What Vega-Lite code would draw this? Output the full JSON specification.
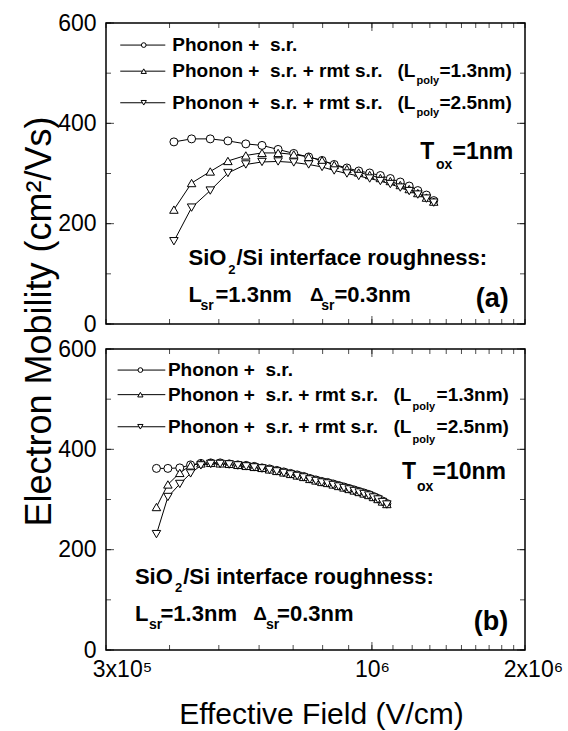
{
"$schema": "https://vega.github.io/schema/vega-lite/v6.json",
"background": "white",
"padding": {"left": 20, "top": 11, "right": 0, "bottom": 0},
"config": {
  "view": {"stroke": "black", "strokeWidth": 1.5},
  "font": "Liberation Sans",
  "text": {"font": "Liberation Sans", "fontWeight": "bold", "align": "left", "baseline": "middle", "color": "black"},
  "axis": {"labelFont": "Liberation Sans", "titleFont": "Liberation Sans", "labelColor": "black", "titleColor": "black", "grid": false, "domain": false, "ticks": false}
},
"datasets": {
"xticks": [{"tick":300000},{"tick":400000},{"tick":500000},{"tick":600000},{"tick":700000},{"tick":800000},{"tick":900000},{"tick":1000000},{"tick":1100000},{"tick":1200000},{"tick":1300000},{"tick":1400000},{"tick":1500000},{"tick":1600000},{"tick":1700000},{"tick":1800000},{"tick":1900000},{"tick":2000000}],
"yticks": [{"tick":0},{"tick":100},{"tick":200},{"tick":300},{"tick":400},{"tick":500},{"tick":600}],
"a": [
{"series":"sr","field":408000,"mobility":363},{"series":"sr","field":442000,"mobility":369},{"series":"sr","field":481000,"mobility":369},{"series":"sr","field":521000,"mobility":365},{"series":"sr","field":565000,"mobility":359},{"series":"sr","field":608000,"mobility":356},{"series":"sr","field":654000,"mobility":348},{"series":"sr","field":702000,"mobility":340},{"series":"sr","field":751000,"mobility":333},{"series":"sr","field":798000,"mobility":326},{"series":"sr","field":843000,"mobility":318},{"series":"sr","field":893000,"mobility":311},{"series":"sr","field":942000,"mobility":305},{"series":"sr","field":990000,"mobility":301},{"series":"sr","field":1039000,"mobility":296},{"series":"sr","field":1087000,"mobility":290},{"series":"sr","field":1137000,"mobility":283},{"series":"sr","field":1184000,"mobility":275},{"series":"sr","field":1231000,"mobility":266},{"series":"sr","field":1280000,"mobility":257},{"series":"sr","field":1323000,"mobility":246},
{"series":"r13","field":408000,"mobility":228},{"series":"r13","field":442000,"mobility":281},{"series":"r13","field":481000,"mobility":304},{"series":"r13","field":521000,"mobility":325},{"series":"r13","field":565000,"mobility":336},{"series":"r13","field":608000,"mobility":341},{"series":"r13","field":654000,"mobility":341},{"series":"r13","field":702000,"mobility":338},{"series":"r13","field":751000,"mobility":333},{"series":"r13","field":798000,"mobility":326},{"series":"r13","field":843000,"mobility":317},{"series":"r13","field":893000,"mobility":309},{"series":"r13","field":942000,"mobility":302},{"series":"r13","field":990000,"mobility":297},{"series":"r13","field":1039000,"mobility":291},{"series":"r13","field":1087000,"mobility":285},{"series":"r13","field":1137000,"mobility":277},{"series":"r13","field":1184000,"mobility":269},{"series":"r13","field":1231000,"mobility":261},{"series":"r13","field":1280000,"mobility":252},{"series":"r13","field":1323000,"mobility":244},
{"series":"r25","field":408000,"mobility":165},{"series":"r25","field":442000,"mobility":232},{"series":"r25","field":481000,"mobility":266},{"series":"r25","field":521000,"mobility":301},{"series":"r25","field":565000,"mobility":318},{"series":"r25","field":608000,"mobility":323},{"series":"r25","field":654000,"mobility":324},{"series":"r25","field":702000,"mobility":322},{"series":"r25","field":751000,"mobility":318},{"series":"r25","field":798000,"mobility":313},{"series":"r25","field":843000,"mobility":306},{"series":"r25","field":893000,"mobility":300},{"series":"r25","field":942000,"mobility":295},{"series":"r25","field":990000,"mobility":290},{"series":"r25","field":1039000,"mobility":285},{"series":"r25","field":1087000,"mobility":279},{"series":"r25","field":1137000,"mobility":272},{"series":"r25","field":1184000,"mobility":265},{"series":"r25","field":1231000,"mobility":258},{"series":"r25","field":1280000,"mobility":250},{"series":"r25","field":1323000,"mobility":242}
],
"b": [
{"series":"sr","field":377000,"mobility":362},{"series":"sr","field":397000,"mobility":362},{"series":"sr","field":419000,"mobility":363},{"series":"sr","field":440000,"mobility":369},{"series":"sr","field":461000,"mobility":372},{"series":"sr","field":482000,"mobility":373},{"series":"sr","field":503000,"mobility":373},{"series":"sr","field":524000,"mobility":371},{"series":"sr","field":545000,"mobility":369},{"series":"sr","field":566000,"mobility":368},{"series":"sr","field":587000,"mobility":366},{"series":"sr","field":608000,"mobility":363},{"series":"sr","field":629000,"mobility":361},{"series":"sr","field":650000,"mobility":358},{"series":"sr","field":671000,"mobility":355},{"series":"sr","field":692000,"mobility":352},{"series":"sr","field":713000,"mobility":349},{"series":"sr","field":734000,"mobility":346},{"series":"sr","field":755000,"mobility":342},{"series":"sr","field":776000,"mobility":339},{"series":"sr","field":797000,"mobility":336},{"series":"sr","field":818000,"mobility":334},{"series":"sr","field":839000,"mobility":331},{"series":"sr","field":860000,"mobility":328},{"series":"sr","field":881000,"mobility":325},{"series":"sr","field":902000,"mobility":322},{"series":"sr","field":923000,"mobility":319},{"series":"sr","field":944000,"mobility":316},{"series":"sr","field":965000,"mobility":313},{"series":"sr","field":986000,"mobility":310},{"series":"sr","field":1007000,"mobility":306},{"series":"sr","field":1028000,"mobility":302},{"series":"sr","field":1049000,"mobility":297},{"series":"sr","field":1070000,"mobility":292},
{"series":"r13","field":377000,"mobility":285},{"series":"r13","field":397000,"mobility":330},{"series":"r13","field":419000,"mobility":353},{"series":"r13","field":440000,"mobility":368},{"series":"r13","field":461000,"mobility":372},{"series":"r13","field":482000,"mobility":373},{"series":"r13","field":503000,"mobility":372},{"series":"r13","field":524000,"mobility":371},{"series":"r13","field":545000,"mobility":369},{"series":"r13","field":566000,"mobility":367},{"series":"r13","field":587000,"mobility":365},{"series":"r13","field":608000,"mobility":363},{"series":"r13","field":629000,"mobility":360},{"series":"r13","field":650000,"mobility":357},{"series":"r13","field":671000,"mobility":354},{"series":"r13","field":692000,"mobility":351},{"series":"r13","field":713000,"mobility":348},{"series":"r13","field":734000,"mobility":345},{"series":"r13","field":755000,"mobility":341},{"series":"r13","field":776000,"mobility":338},{"series":"r13","field":797000,"mobility":335},{"series":"r13","field":818000,"mobility":333},{"series":"r13","field":839000,"mobility":330},{"series":"r13","field":860000,"mobility":327},{"series":"r13","field":881000,"mobility":324},{"series":"r13","field":902000,"mobility":321},{"series":"r13","field":923000,"mobility":318},{"series":"r13","field":944000,"mobility":315},{"series":"r13","field":965000,"mobility":312},{"series":"r13","field":986000,"mobility":309},{"series":"r13","field":1007000,"mobility":305},{"series":"r13","field":1028000,"mobility":301},{"series":"r13","field":1049000,"mobility":296},{"series":"r13","field":1070000,"mobility":291},
{"series":"r25","field":377000,"mobility":231},{"series":"r25","field":397000,"mobility":305},{"series":"r25","field":419000,"mobility":331},{"series":"r25","field":440000,"mobility":352},{"series":"r25","field":461000,"mobility":368},{"series":"r25","field":482000,"mobility":371},{"series":"r25","field":503000,"mobility":371},{"series":"r25","field":524000,"mobility":370},{"series":"r25","field":545000,"mobility":368},{"series":"r25","field":566000,"mobility":366},{"series":"r25","field":587000,"mobility":364},{"series":"r25","field":608000,"mobility":362},{"series":"r25","field":629000,"mobility":359},{"series":"r25","field":650000,"mobility":356},{"series":"r25","field":671000,"mobility":353},{"series":"r25","field":692000,"mobility":350},{"series":"r25","field":713000,"mobility":347},{"series":"r25","field":734000,"mobility":344},{"series":"r25","field":755000,"mobility":340},{"series":"r25","field":776000,"mobility":337},{"series":"r25","field":797000,"mobility":334},{"series":"r25","field":818000,"mobility":332},{"series":"r25","field":839000,"mobility":329},{"series":"r25","field":860000,"mobility":326},{"series":"r25","field":881000,"mobility":323},{"series":"r25","field":902000,"mobility":320},{"series":"r25","field":923000,"mobility":317},{"series":"r25","field":944000,"mobility":314},{"series":"r25","field":965000,"mobility":311},{"series":"r25","field":986000,"mobility":308},{"series":"r25","field":1007000,"mobility":304},{"series":"r25","field":1028000,"mobility":300},{"series":"r25","field":1049000,"mobility":295},{"series":"r25","field":1070000,"mobility":290}
]
},
"spacing": 25,
"bounds": "flush",
"vconcat": [
{
  "width": 419, "height": 301,
  "data": {"name": "a"},
  "resolve": {"axis": {"x": "independent", "y": "independent"}},
  "layer": [
    {"mark": {"type": "line", "color": "black", "strokeWidth": 1},
     "encoding": {
       "x": {"field": "field", "type": "quantitative", "scale": {"type": "log", "domain": [300000, 2000000], "nice": false}, "axis": null},
       "y": {"field": "mobility", "type": "quantitative", "scale": {"domain": [0, 600], "nice": false, "zero": false},
             "axis": {"orient": "left", "values": [0, 200, 400, 600], "ticks": false, "domain": false, "labelFontSize": 23, "labelPadding": 10, "labelOverlap": false, "labelFlush": false, "labelBound": false,
                      "title": "Electron Mobility (cm²/Vs)", "titleFontSize": 36, "titleFontWeight": "normal", "titleX": -67, "titleY": 298, "titleAngle": -90, "titleAlign": "center", "titleBaseline": "middle"}},
       "detail": {"field": "series"}}},
    {"data": {"name": "xticks"}, "mark": {"type": "tick", "orient": "vertical", "size": 5, "thickness": 1, "color": "black", "yOffset": -2.5}, "encoding": {"x": {"field": "tick", "type": "quantitative", "axis": null}, "y": {"datum": 0, "type": "quantitative", "axis": null}}},
    {"data": {"name": "xticks"}, "mark": {"type": "tick", "orient": "vertical", "size": 5, "thickness": 1, "color": "black", "yOffset": 2.5}, "encoding": {"x": {"field": "tick", "type": "quantitative", "axis": null}, "y": {"datum": 600, "type": "quantitative", "axis": null}}},
    {"data": {"name": "xticks"}, "transform": [{"filter": "datum.tick == 1000000"}], "mark": {"type": "tick", "orient": "vertical", "size": 8, "thickness": 1, "color": "black", "yOffset": -4}, "encoding": {"x": {"field": "tick", "type": "quantitative", "axis": null}, "y": {"datum": 0, "type": "quantitative", "axis": null}}},
    {"data": {"name": "xticks"}, "transform": [{"filter": "datum.tick == 1000000"}], "mark": {"type": "tick", "orient": "vertical", "size": 8, "thickness": 1, "color": "black", "yOffset": 4}, "encoding": {"x": {"field": "tick", "type": "quantitative", "axis": null}, "y": {"datum": 600, "type": "quantitative", "axis": null}}},
    {"data": {"name": "yticks"}, "mark": {"type": "tick", "orient": "horizontal", "size": 5, "thickness": 1, "color": "black", "xOffset": 2.5}, "encoding": {"y": {"field": "tick", "type": "quantitative", "axis": null}, "x": {"datum": 300000, "type": "quantitative", "axis": null}}},
    {"data": {"name": "yticks"}, "mark": {"type": "tick", "orient": "horizontal", "size": 5, "thickness": 1, "color": "black", "xOffset": -2.5}, "encoding": {"y": {"field": "tick", "type": "quantitative", "axis": null}, "x": {"datum": 2000000, "type": "quantitative", "axis": null}}},
    {"data": {"name": "yticks"}, "transform": [{"filter": "datum.tick % 200 == 0"}], "mark": {"type": "tick", "orient": "horizontal", "size": 8, "thickness": 1, "color": "black", "xOffset": 4}, "encoding": {"y": {"field": "tick", "type": "quantitative", "axis": null}, "x": {"datum": 300000, "type": "quantitative", "axis": null}}},
    {"data": {"name": "yticks"}, "transform": [{"filter": "datum.tick % 200 == 0"}], "mark": {"type": "tick", "orient": "horizontal", "size": 8, "thickness": 1, "color": "black", "xOffset": -4}, "encoding": {"y": {"field": "tick", "type": "quantitative", "axis": null}, "x": {"datum": 2000000, "type": "quantitative", "axis": null}}},
    {"transform": [{"filter": "datum.series === 'sr'"}],
     "mark": {"type": "point", "shape": "circle", "size": 64, "filled": true, "fill": "white", "stroke": "black", "strokeWidth": 1, "opacity": 1},
     "encoding": {"x": {"field": "field", "type": "quantitative", "axis": null}, "y": {"field": "mobility", "type": "quantitative", "axis": null}}},
    {"transform": [{"filter": "datum.series === 'r13'"}],
     "mark": {"type": "point", "shape": "triangle-up", "size": 72, "filled": true, "fill": "white", "stroke": "black", "strokeWidth": 1, "opacity": 1},
     "encoding": {"x": {"field": "field", "type": "quantitative", "axis": null}, "y": {"field": "mobility", "type": "quantitative", "axis": null}}},
    {"transform": [{"filter": "datum.series === 'r25'"}],
     "mark": {"type": "point", "shape": "triangle-down", "size": 72, "filled": true, "fill": "white", "stroke": "black", "strokeWidth": 1, "opacity": 1},
     "encoding": {"x": {"field": "field", "type": "quantitative", "axis": null}, "y": {"field": "mobility", "type": "quantitative", "axis": null}}},

    {"data": {"values": [{}]}, "mark": {"type": "rule", "color": "black", "strokeWidth": 1}, "encoding": {"x": {"datum": 320000, "type": "quantitative", "axis": null}, "x2": {"datum": 392400}, "y": {"datum": 556, "type": "quantitative", "axis": null}}},
    {"data": {"values": [{}]}, "mark": {"type": "rule", "color": "black", "strokeWidth": 1}, "encoding": {"x": {"datum": 320000, "type": "quantitative", "axis": null}, "x2": {"datum": 392400}, "y": {"datum": 504, "type": "quantitative", "axis": null}}},
    {"data": {"values": [{}]}, "mark": {"type": "rule", "color": "black", "strokeWidth": 1}, "encoding": {"x": {"datum": 320000, "type": "quantitative", "axis": null}, "x2": {"datum": 392400}, "y": {"datum": 441, "type": "quantitative", "axis": null}}},
    {"data": {"values": [{}]}, "mark": {"type": "point", "shape": "circle", "size": 22, "filled": true, "fill": "white", "stroke": "black", "strokeWidth": 1, "opacity": 1}, "encoding": {"x": {"datum": 355900, "type": "quantitative", "axis": null}, "y": {"datum": 556, "type": "quantitative", "axis": null}}},
    {"data": {"values": [{}]}, "mark": {"type": "point", "shape": "triangle-up", "size": 28, "filled": true, "fill": "white", "stroke": "black", "strokeWidth": 1, "opacity": 1}, "encoding": {"x": {"datum": 355900, "type": "quantitative", "axis": null}, "y": {"datum": 504, "type": "quantitative", "axis": null}}},
    {"data": {"values": [{}]}, "mark": {"type": "point", "shape": "triangle-down", "size": 28, "filled": true, "fill": "white", "stroke": "black", "strokeWidth": 1, "opacity": 1}, "encoding": {"x": {"datum": 355900, "type": "quantitative", "axis": null}, "y": {"datum": 441, "type": "quantitative", "axis": null}}},
    {"data": {"values": [{}]}, "mark": {"type": "text", "text": "Phonon +\u00a0 s.r.", "fontSize": 19}, "encoding": {"x": {"datum": 405000, "type": "quantitative", "axis": null}, "y": {"datum": 556, "type": "quantitative", "axis": null}}},
    {"data": {"values": [{}]}, "mark": {"type": "text", "text": "Phonon +\u00a0 s.r. + rmt s.r.", "fontSize": 19}, "encoding": {"x": {"datum": 405000, "type": "quantitative", "axis": null}, "y": {"datum": 504, "type": "quantitative", "axis": null}}},
    {"data": {"values": [{}]}, "mark": {"type": "text", "text": "(L", "fontSize": 19}, "encoding": {"x": {"datum": 1122700, "type": "quantitative", "axis": null}, "y": {"datum": 504, "type": "quantitative", "axis": null}}},
    {"data": {"values": [{}]}, "mark": {"type": "text", "text": "poly", "fontSize": 11}, "encoding": {"x": {"datum": 1224000, "type": "quantitative", "axis": null}, "y": {"datum": 484, "type": "quantitative", "axis": null}}},
    {"data": {"values": [{}]}, "mark": {"type": "text", "text": "=1.3nm)", "fontSize": 19}, "encoding": {"x": {"datum": 1358000, "type": "quantitative", "axis": null}, "y": {"datum": 504, "type": "quantitative", "axis": null}}},
    {"data": {"values": [{}]}, "mark": {"type": "text", "text": "Phonon +\u00a0 s.r. + rmt s.r.", "fontSize": 19}, "encoding": {"x": {"datum": 405000, "type": "quantitative", "axis": null}, "y": {"datum": 441, "type": "quantitative", "axis": null}}},
    {"data": {"values": [{}]}, "mark": {"type": "text", "text": "(L", "fontSize": 19}, "encoding": {"x": {"datum": 1122700, "type": "quantitative", "axis": null}, "y": {"datum": 441, "type": "quantitative", "axis": null}}},
    {"data": {"values": [{}]}, "mark": {"type": "text", "text": "poly", "fontSize": 11}, "encoding": {"x": {"datum": 1224000, "type": "quantitative", "axis": null}, "y": {"datum": 420, "type": "quantitative", "axis": null}}},
    {"data": {"values": [{}]}, "mark": {"type": "text", "text": "=2.5nm)", "fontSize": 19}, "encoding": {"x": {"datum": 1358000, "type": "quantitative", "axis": null}, "y": {"datum": 441, "type": "quantitative", "axis": null}}},

    {"data": {"values": [{}]}, "mark": {"type": "text", "text": "T", "fontSize": 23}, "encoding": {"x": {"datum": 1245000, "type": "quantitative", "axis": null}, "y": {"datum": 342, "type": "quantitative", "axis": null}}},
    {"data": {"values": [{}]}, "mark": {"type": "text", "text": "ox", "fontSize": 14}, "encoding": {"x": {"datum": 1336000, "type": "quantitative", "axis": null}, "y": {"datum": 317, "type": "quantitative", "axis": null}}},
    {"data": {"values": [{}]}, "mark": {"type": "text", "text": "=1nm", "fontSize": 23}, "encoding": {"x": {"datum": 1440000, "type": "quantitative", "axis": null}, "y": {"datum": 342, "type": "quantitative", "axis": null}}},

    {"data": {"values": [{}]}, "mark": {"type": "text", "text": "SiO", "fontSize": 22}, "encoding": {"x": {"datum": 435900, "type": "quantitative", "axis": null}, "y": {"datum": 132, "type": "quantitative", "axis": null}}},
    {"data": {"values": [{}]}, "mark": {"type": "text", "text": "2", "fontSize": 13}, "encoding": {"x": {"datum": 522000, "type": "quantitative", "axis": null}, "y": {"datum": 108, "type": "quantitative", "axis": null}}},
    {"data": {"values": [{}]}, "mark": {"type": "text", "text": "/Si interface roughness:", "fontSize": 22}, "encoding": {"x": {"datum": 541500, "type": "quantitative", "axis": null}, "y": {"datum": 132, "type": "quantitative", "axis": null}}},
    {"data": {"values": [{}]}, "mark": {"type": "text", "text": "L", "fontSize": 22}, "encoding": {"x": {"datum": 435900, "type": "quantitative", "axis": null}, "y": {"datum": 57, "type": "quantitative", "axis": null}}},
    {"data": {"values": [{}]}, "mark": {"type": "text", "text": "sr", "fontSize": 14}, "encoding": {"x": {"datum": 460000, "type": "quantitative", "axis": null}, "y": {"datum": 36, "type": "quantitative", "axis": null}}},
    {"data": {"values": [{}]}, "mark": {"type": "text", "text": "=1.3nm", "fontSize": 22}, "encoding": {"x": {"datum": 492500, "type": "quantitative", "axis": null}, "y": {"datum": 57, "type": "quantitative", "axis": null}}},
    {"data": {"values": [{}]}, "mark": {"type": "text", "text": "Δ", "fontSize": 19}, "encoding": {"x": {"datum": 755400, "type": "quantitative", "axis": null}, "y": {"datum": 57, "type": "quantitative", "axis": null}}},
    {"data": {"values": [{}]}, "mark": {"type": "text", "text": "sr", "fontSize": 14}, "encoding": {"x": {"datum": 795000, "type": "quantitative", "axis": null}, "y": {"datum": 36, "type": "quantitative", "axis": null}}},
    {"data": {"values": [{}]}, "mark": {"type": "text", "text": "=0.3nm", "fontSize": 22}, "encoding": {"x": {"datum": 844000, "type": "quantitative", "axis": null}, "y": {"datum": 57, "type": "quantitative", "axis": null}}},
    {"data": {"values": [{}]}, "mark": {"type": "text", "text": "(a)", "fontSize": 27}, "encoding": {"x": {"datum": 1600000, "type": "quantitative", "axis": null}, "y": {"datum": 50, "type": "quantitative", "axis": null}}}
  ]
},
{
  "width": 419, "height": 301,
  "data": {"name": "b"},
  "resolve": {"axis": {"x": "independent", "y": "independent"}},
  "layer": [
    {"mark": {"type": "line", "color": "black", "strokeWidth": 1},
     "encoding": {
       "x": {"field": "field", "type": "quantitative", "scale": {"type": "log", "domain": [300000, 2000000], "nice": false},
             "axis": {"orient": "bottom", "values": [300000, 1000000, 2000000], "labelExpr": "datum.value == 300000 ? '3x10⁵' : datum.value == 1000000 ? '10⁶' : '2x10⁶'", "ticks": false, "domain": false, "labelFontSize": 23, "labelPadding": 8, "labelOverlap": false, "labelFlush": false, "labelBound": false,
                      "labelOffset": {"condition": [{"test": "datum.value < 500000", "value": 16}, {"test": "datum.value > 1500000", "value": 8}], "value": 0},
                      "title": "Effective Field (V/cm)", "titleFontSize": 30, "titleFontWeight": "normal", "titleX": 215, "titleY": 73, "titleAlign": "center", "titleBaseline": "alphabetic"}},
       "y": {"field": "mobility", "type": "quantitative", "scale": {"domain": [0, 600], "nice": false, "zero": false},
             "axis": {"orient": "left", "values": [0, 200, 400, 600], "ticks": false, "domain": false, "labelFontSize": 23, "labelPadding": 10, "labelOverlap": false, "labelFlush": false, "labelBound": false, "title": null}},
       "detail": {"field": "series"}}},
    {"data": {"name": "xticks"}, "mark": {"type": "tick", "orient": "vertical", "size": 5, "thickness": 1, "color": "black", "yOffset": -2.5}, "encoding": {"x": {"field": "tick", "type": "quantitative", "axis": null}, "y": {"datum": 0, "type": "quantitative", "axis": null}}},
    {"data": {"name": "xticks"}, "mark": {"type": "tick", "orient": "vertical", "size": 5, "thickness": 1, "color": "black", "yOffset": 2.5}, "encoding": {"x": {"field": "tick", "type": "quantitative", "axis": null}, "y": {"datum": 600, "type": "quantitative", "axis": null}}},
    {"data": {"name": "xticks"}, "transform": [{"filter": "datum.tick == 1000000"}], "mark": {"type": "tick", "orient": "vertical", "size": 8, "thickness": 1, "color": "black", "yOffset": -4}, "encoding": {"x": {"field": "tick", "type": "quantitative", "axis": null}, "y": {"datum": 0, "type": "quantitative", "axis": null}}},
    {"data": {"name": "xticks"}, "transform": [{"filter": "datum.tick == 1000000"}], "mark": {"type": "tick", "orient": "vertical", "size": 8, "thickness": 1, "color": "black", "yOffset": 4}, "encoding": {"x": {"field": "tick", "type": "quantitative", "axis": null}, "y": {"datum": 600, "type": "quantitative", "axis": null}}},
    {"data": {"name": "yticks"}, "mark": {"type": "tick", "orient": "horizontal", "size": 5, "thickness": 1, "color": "black", "xOffset": 2.5}, "encoding": {"y": {"field": "tick", "type": "quantitative", "axis": null}, "x": {"datum": 300000, "type": "quantitative", "axis": null}}},
    {"data": {"name": "yticks"}, "mark": {"type": "tick", "orient": "horizontal", "size": 5, "thickness": 1, "color": "black", "xOffset": -2.5}, "encoding": {"y": {"field": "tick", "type": "quantitative", "axis": null}, "x": {"datum": 2000000, "type": "quantitative", "axis": null}}},
    {"data": {"name": "yticks"}, "transform": [{"filter": "datum.tick % 200 == 0"}], "mark": {"type": "tick", "orient": "horizontal", "size": 8, "thickness": 1, "color": "black", "xOffset": 4}, "encoding": {"y": {"field": "tick", "type": "quantitative", "axis": null}, "x": {"datum": 300000, "type": "quantitative", "axis": null}}},
    {"data": {"name": "yticks"}, "transform": [{"filter": "datum.tick % 200 == 0"}], "mark": {"type": "tick", "orient": "horizontal", "size": 8, "thickness": 1, "color": "black", "xOffset": -4}, "encoding": {"y": {"field": "tick", "type": "quantitative", "axis": null}, "x": {"datum": 2000000, "type": "quantitative", "axis": null}}},
    {"transform": [{"filter": "datum.series === 'sr'"}],
     "mark": {"type": "point", "shape": "circle", "size": 64, "filled": true, "fill": "white", "stroke": "black", "strokeWidth": 1, "opacity": 1},
     "encoding": {"x": {"field": "field", "type": "quantitative", "axis": null}, "y": {"field": "mobility", "type": "quantitative", "axis": null}}},
    {"transform": [{"filter": "datum.series === 'r13'"}],
     "mark": {"type": "point", "shape": "triangle-up", "size": 72, "filled": true, "fill": "white", "stroke": "black", "strokeWidth": 1, "opacity": 1},
     "encoding": {"x": {"field": "field", "type": "quantitative", "axis": null}, "y": {"field": "mobility", "type": "quantitative", "axis": null}}},
    {"transform": [{"filter": "datum.series === 'r25'"}],
     "mark": {"type": "point", "shape": "triangle-down", "size": 72, "filled": true, "fill": "white", "stroke": "black", "strokeWidth": 1, "opacity": 1},
     "encoding": {"x": {"field": "field", "type": "quantitative", "axis": null}, "y": {"field": "mobility", "type": "quantitative", "axis": null}}},

    {"data": {"values": [{}]}, "mark": {"type": "rule", "color": "black", "strokeWidth": 1}, "encoding": {"x": {"datum": 316200, "type": "quantitative", "axis": null}, "x2": {"datum": 392400}, "y": {"datum": 558, "type": "quantitative", "axis": null}}},
    {"data": {"values": [{}]}, "mark": {"type": "rule", "color": "black", "strokeWidth": 1}, "encoding": {"x": {"datum": 316200, "type": "quantitative", "axis": null}, "x2": {"datum": 392400}, "y": {"datum": 509, "type": "quantitative", "axis": null}}},
    {"data": {"values": [{}]}, "mark": {"type": "rule", "color": "black", "strokeWidth": 1}, "encoding": {"x": {"datum": 316200, "type": "quantitative", "axis": null}, "x2": {"datum": 392400}, "y": {"datum": 445, "type": "quantitative", "axis": null}}},
    {"data": {"values": [{}]}, "mark": {"type": "point", "shape": "circle", "size": 22, "filled": true, "fill": "white", "stroke": "black", "strokeWidth": 1, "opacity": 1}, "encoding": {"x": {"datum": 350500, "type": "quantitative", "axis": null}, "y": {"datum": 558, "type": "quantitative", "axis": null}}},
    {"data": {"values": [{}]}, "mark": {"type": "point", "shape": "triangle-up", "size": 28, "filled": true, "fill": "white", "stroke": "black", "strokeWidth": 1, "opacity": 1}, "encoding": {"x": {"datum": 350500, "type": "quantitative", "axis": null}, "y": {"datum": 509, "type": "quantitative", "axis": null}}},
    {"data": {"values": [{}]}, "mark": {"type": "point", "shape": "triangle-down", "size": 28, "filled": true, "fill": "white", "stroke": "black", "strokeWidth": 1, "opacity": 1}, "encoding": {"x": {"datum": 350500, "type": "quantitative", "axis": null}, "y": {"datum": 445, "type": "quantitative", "axis": null}}},
    {"data": {"values": [{}]}, "mark": {"type": "text", "text": "Phonon +\u00a0 s.r.", "fontSize": 19}, "encoding": {"x": {"datum": 397000, "type": "quantitative", "axis": null}, "y": {"datum": 558, "type": "quantitative", "axis": null}}},
    {"data": {"values": [{}]}, "mark": {"type": "text", "text": "Phonon +\u00a0 s.r. + rmt s.r.", "fontSize": 19}, "encoding": {"x": {"datum": 397000, "type": "quantitative", "axis": null}, "y": {"datum": 509, "type": "quantitative", "axis": null}}},
    {"data": {"values": [{}]}, "mark": {"type": "text", "text": "(L", "fontSize": 19}, "encoding": {"x": {"datum": 1102600, "type": "quantitative", "axis": null}, "y": {"datum": 509, "type": "quantitative", "axis": null}}},
    {"data": {"values": [{}]}, "mark": {"type": "text", "text": "poly", "fontSize": 11}, "encoding": {"x": {"datum": 1202000, "type": "quantitative", "axis": null}, "y": {"datum": 484, "type": "quantitative", "axis": null}}},
    {"data": {"values": [{}]}, "mark": {"type": "text", "text": "=1.3nm)", "fontSize": 19}, "encoding": {"x": {"datum": 1340000, "type": "quantitative", "axis": null}, "y": {"datum": 509, "type": "quantitative", "axis": null}}},
    {"data": {"values": [{}]}, "mark": {"type": "text", "text": "Phonon +\u00a0 s.r. + rmt s.r.", "fontSize": 19}, "encoding": {"x": {"datum": 397000, "type": "quantitative", "axis": null}, "y": {"datum": 445, "type": "quantitative", "axis": null}}},
    {"data": {"values": [{}]}, "mark": {"type": "text", "text": "(L", "fontSize": 19}, "encoding": {"x": {"datum": 1102600, "type": "quantitative", "axis": null}, "y": {"datum": 445, "type": "quantitative", "axis": null}}},
    {"data": {"values": [{}]}, "mark": {"type": "text", "text": "poly", "fontSize": 11}, "encoding": {"x": {"datum": 1202000, "type": "quantitative", "axis": null}, "y": {"datum": 418, "type": "quantitative", "axis": null}}},
    {"data": {"values": [{}]}, "mark": {"type": "text", "text": "=2.5nm)", "fontSize": 19}, "encoding": {"x": {"datum": 1340000, "type": "quantitative", "axis": null}, "y": {"datum": 445, "type": "quantitative", "axis": null}}},

    {"data": {"values": [{}]}, "mark": {"type": "text", "text": "T", "fontSize": 23}, "encoding": {"x": {"datum": 1145700, "type": "quantitative", "axis": null}, "y": {"datum": 354, "type": "quantitative", "axis": null}}},
    {"data": {"values": [{}]}, "mark": {"type": "text", "text": "ox", "fontSize": 14}, "encoding": {"x": {"datum": 1226000, "type": "quantitative", "axis": null}, "y": {"datum": 324, "type": "quantitative", "axis": null}}},
    {"data": {"values": [{}]}, "mark": {"type": "text", "text": "=10nm", "fontSize": 23}, "encoding": {"x": {"datum": 1316000, "type": "quantitative", "axis": null}, "y": {"datum": 354, "type": "quantitative", "axis": null}}},

    {"data": {"values": [{}]}, "mark": {"type": "text", "text": "SiO", "fontSize": 22}, "encoding": {"x": {"datum": 342000, "type": "quantitative", "axis": null}, "y": {"datum": 146, "type": "quantitative", "axis": null}}},
    {"data": {"values": [{}]}, "mark": {"type": "text", "text": "2", "fontSize": 13}, "encoding": {"x": {"datum": 410000, "type": "quantitative", "axis": null}, "y": {"datum": 123, "type": "quantitative", "axis": null}}},
    {"data": {"values": [{}]}, "mark": {"type": "text", "text": "/Si interface roughness:", "fontSize": 22}, "encoding": {"x": {"datum": 425500, "type": "quantitative", "axis": null}, "y": {"datum": 146, "type": "quantitative", "axis": null}}},
    {"data": {"values": [{}]}, "mark": {"type": "text", "text": "L", "fontSize": 22}, "encoding": {"x": {"datum": 342000, "type": "quantitative", "axis": null}, "y": {"datum": 72, "type": "quantitative", "axis": null}}},
    {"data": {"values": [{}]}, "mark": {"type": "text", "text": "sr", "fontSize": 14}, "encoding": {"x": {"datum": 364500, "type": "quantitative", "axis": null}, "y": {"datum": 50, "type": "quantitative", "axis": null}}},
    {"data": {"values": [{}]}, "mark": {"type": "text", "text": "=1.3nm", "fontSize": 22}, "encoding": {"x": {"datum": 384000, "type": "quantitative", "axis": null}, "y": {"datum": 72, "type": "quantitative", "axis": null}}},
    {"data": {"values": [{}]}, "mark": {"type": "text", "text": "Δ", "fontSize": 19}, "encoding": {"x": {"datum": 584400, "type": "quantitative", "axis": null}, "y": {"datum": 72, "type": "quantitative", "axis": null}}},
    {"data": {"values": [{}]}, "mark": {"type": "text", "text": "sr", "fontSize": 14}, "encoding": {"x": {"datum": 619000, "type": "quantitative", "axis": null}, "y": {"datum": 50, "type": "quantitative", "axis": null}}},
    {"data": {"values": [{}]}, "mark": {"type": "text", "text": "=0.3nm", "fontSize": 22}, "encoding": {"x": {"datum": 651000, "type": "quantitative", "axis": null}, "y": {"datum": 72, "type": "quantitative", "axis": null}}},
    {"data": {"values": [{}]}, "mark": {"type": "text", "text": "(b)", "fontSize": 27}, "encoding": {"x": {"datum": 1586000, "type": "quantitative", "axis": null}, "y": {"datum": 55, "type": "quantitative", "axis": null}}}
  ]
}
]
}
